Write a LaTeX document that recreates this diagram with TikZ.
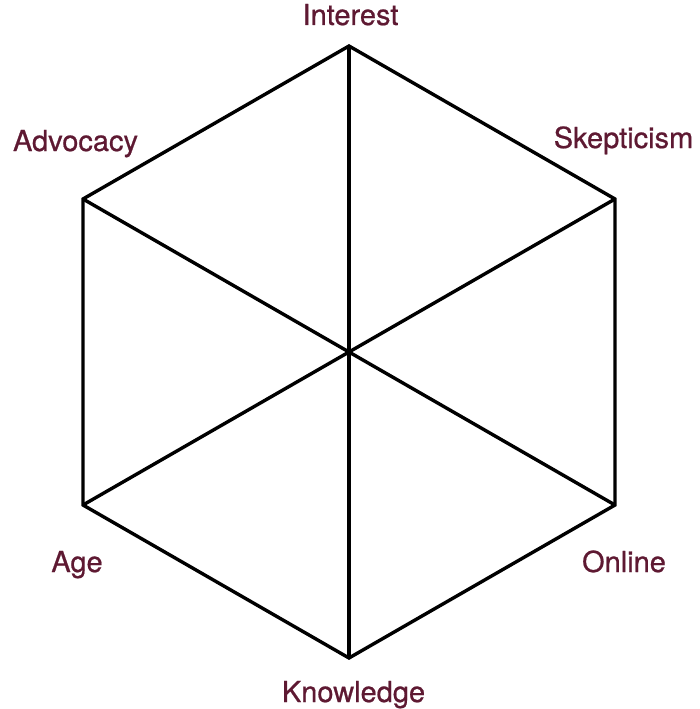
\documentclass[tikz,border=0pt]{standalone}
\usepackage{fontspec}
\setmainfont{TeX Gyre Heros}
\newfontface\labfont{TeX Gyre Heros}[FakeBold=0.7]
\definecolor{labelc}{RGB}{94,25,50}
\begin{document}
\begin{tikzpicture}[x=1pt,y=-1pt,
  edge/.style={line width=3.4pt,line join=miter,black},
  lab/.style={anchor=base,text=labelc,inner sep=0pt,font=\labfont\fontsize{29}{32}\selectfont}]
\useasboundingbox (0,0) rectangle (700,709);
\coordinate (C) at (349,352);
\coordinate (T) at (349,46);
\coordinate (UR) at (615,199);
\coordinate (LR) at (615,505);
\coordinate (B) at (349,658);
\coordinate (LL) at (83,505);
\coordinate (UL) at (83,199);
\draw[edge] (T) -- (UR) -- (LR) -- (B) -- (LL) -- (UL) -- cycle;
\draw[edge] (T) -- (B);
\draw[edge] (UL) -- (LR);
\draw[edge] (UR) -- (LL);
\node[lab] (interest) at (350.5,25) {Interest};
\node[lab] (skept) at (623.5,148) {Skepticism};
\node[lab] (advo) at (75.5,151) {Advocacy};
\node[lab] (age) at (77,572) {Age};
\node[lab] (online) at (624,572) {Online};
\node[lab] (know) at (353.5,702) {Knowledge};
\end{tikzpicture}
\end{document}
